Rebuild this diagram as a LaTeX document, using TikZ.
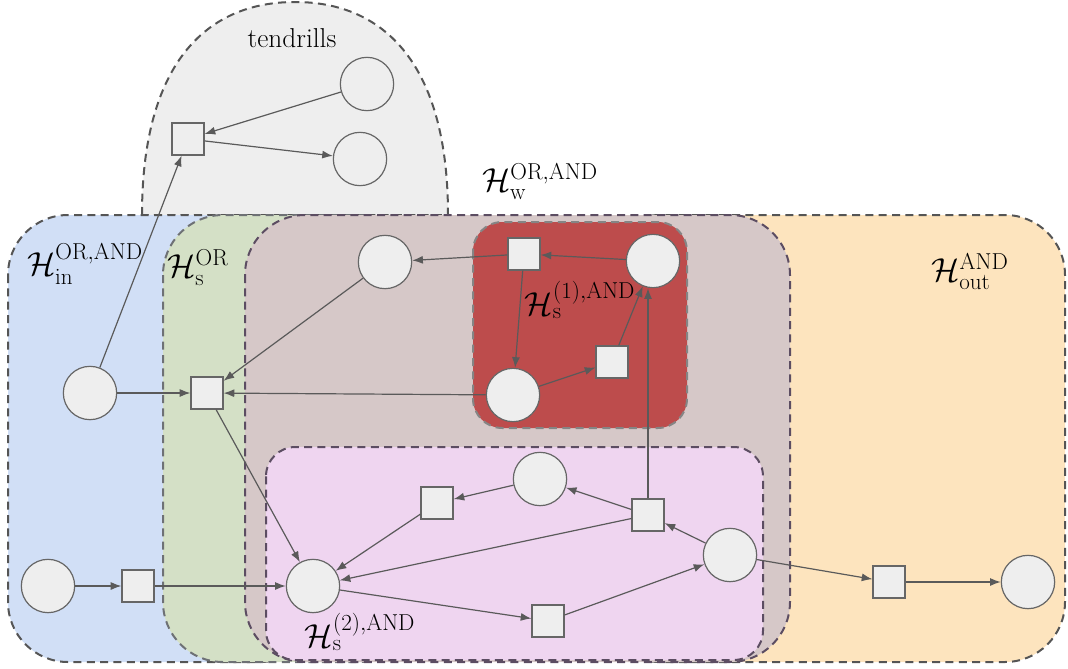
\documentclass[tikz,border=0pt]{standalone}
\usepackage{amsmath}
\usepackage{amssymb}
\usetikzlibrary{arrows.meta}
\usetikzlibrary{positioning}
\definecolor{nodefill}{HTML}{EEEEEE}
\definecolor{nodeline}{HTML}{666666}
\definecolor{edgeline}{HTML}{5A5A5A}
\definecolor{inblue}{HTML}{D1DFF6}
\definecolor{sgreen}{HTML}{D4E0C6}
\definecolor{wbrown}{HTML}{D6C8C8}
\definecolor{outorange}{HTML}{FDE4BE}
\definecolor{redbox}{HTML}{BD4C4C}
\definecolor{pinkbox}{HTML}{EFD5F0}
\definecolor{dashgray}{HTML}{555555}
\definecolor{dashpurple}{HTML}{5C4D62}
\tikzset{place/.style = {circle, draw=nodeline, fill=nodefill, line width=0.9pt,
                         minimum size=40pt, inner sep=0pt},
         trans/.style = {rectangle, draw=nodeline, fill=nodefill, line width=0.9pt,
                         minimum size=24pt, inner sep=0pt},
         edge/.style = {draw=edgeline, line width=0.9pt, -{Latex[length=8pt,width=6pt]}},
         region/.style = {line width=1.5pt, dash pattern=on 6pt off 4pt},
         lab/.style = {inner sep=0pt, font=\fontsize{23}{27}\selectfont}}

\begin{document}
\begin{tikzpicture}[x=0.75pt, y=-0.75pt]
    \useasboundingbox (0, 0) rectangle (1068, 668);

    % regions
    \draw [region, draw=dashgray, fill=nodefill] (142, 215) .. controls (142, 65) and (205, 2) .. (295, 2)
          .. controls (385, 2) and (448, 65) .. (448, 215) -- cycle;
    \draw [region, draw=dashgray, fill=inblue, rounded corners=45pt] (8, 215) rectangle (320, 662);
    \draw [region, draw=dashgray, fill=outorange, rounded corners=45pt] (600, 215) rectangle (1065, 662);
    \draw [region, draw=dashgray!80!inblue, fill=sgreen, rounded corners=45pt] (163, 215) rectangle (420, 662);
    \draw [region, draw=dashpurple, fill=wbrown, rounded corners=45pt] (245, 215) rectangle (790, 662);
    \draw [region, draw=nodeline!80, fill=redbox, rounded corners=22pt] (473, 222) rectangle (687, 428);
    \draw [region, draw=dashpurple, fill=pinkbox, rounded corners=22pt] (266, 447) rectangle (763, 660);

    % labels
    \node [lab, font=\fontsize{20.5}{24}\selectfont] (ltendrills) at (292, 38) {tendrills};
    \node [lab] (lweak) at (540, 182) {$\mathcal{H}_{\mathrm{w}}^{\mathrm{OR,AND}}$};
    \node [lab] (lin) at (85, 264) {$\mathcal{H}_{\mathrm{in}}^{\mathrm{OR,AND}}$};
    \node [lab] (lsor) at (198, 268) {$\mathcal{H}_{\mathrm{s}}^{\mathrm{OR}}$};
    \node [lab] (lsone) at (580, 300) {$\mathcal{H}_{\mathrm{s}}^{(1),\mathrm{AND}}$};
    \node [lab] (lstwo) at (360, 632) {$\mathcal{H}_{\mathrm{s}}^{(2),\mathrm{AND}}$};
    \node [lab] (lout) at (970, 272) {$\mathcal{H}_{\mathrm{out}}^{\mathrm{AND}}$};

    % tendrills
    \node [trans] (tsq) at (188, 139) {};
    \node [place] (tup) at (367, 84) {};
    \node [place] (tlow) at (360, 159) {};

    % in part
    \node [place] (inA) at (90, 393) {};
    \node [place] (inB) at (48, 586) {};
    \node [trans] (inBsq) at (138, 586) {};
    \node [trans] (orsq) at (207, 393) {};

    % weak part
    \node [place] (wA) at (385, 262) {};

    % first strong part
    \node [trans] (rsqA) at (524, 254) {};
    \node [place] (rA) at (653, 261) {};
    \node [place] (rB) at (513, 395) {};
    \node [trans] (rsqB) at (612, 362) {};

    % second strong part
    \node [place] (pA) at (313, 586) {};
    \node [trans] (psqA) at (437, 503) {};
    \node [place] (pB) at (540, 479) {};
    \node [trans] (psqB) at (648, 515) {};
    \node [place] (pC) at (730, 555) {};
    \node [trans] (psqC) at (548, 621) {};

    % out part
    \node [trans] (outsq) at (889, 582) {};
    \node [place] (outA) at (1028, 582) {};

    \draw [edge] (tup) -- (tsq);
    \draw [edge] (tsq) -- (tlow);
    \draw [edge] (inA) -- (tsq);
    \draw [edge] (inA) -- (orsq);
    \draw [edge] (wA) -- (orsq);
    \draw [edge] (rB) -- (orsq);
    \draw [edge] (orsq) -- (pA);
    \draw [edge] (inB) -- (inBsq);
    \draw [edge] (inBsq) -- (pA);
    \draw [edge] (rsqA) -- (wA);
    \draw [edge] (rA) -- (rsqA);
    \draw [edge] (rsqA) -- (rB);
    \draw [edge] (rB) -- (rsqB);
    \draw [edge] (rsqB) -- (rA);
    \draw [edge] (psqB) -- (psqB |- rA.south);
    \draw [edge] (pB) -- (psqA);
    \draw [edge] (psqA) -- (pA);
    \draw [edge] (psqB) -- (pB);
    \draw [edge] (psqB) -- (pA);
    \draw [edge] (pC) -- (psqB);
    \draw [edge] (pA) -- (psqC);
    \draw [edge] (psqC) -- (pC);
    \draw [edge] (pC) -- (outsq);
    \draw [edge] (outsq) -- (outA);
  \end{tikzpicture}
\end{document}
